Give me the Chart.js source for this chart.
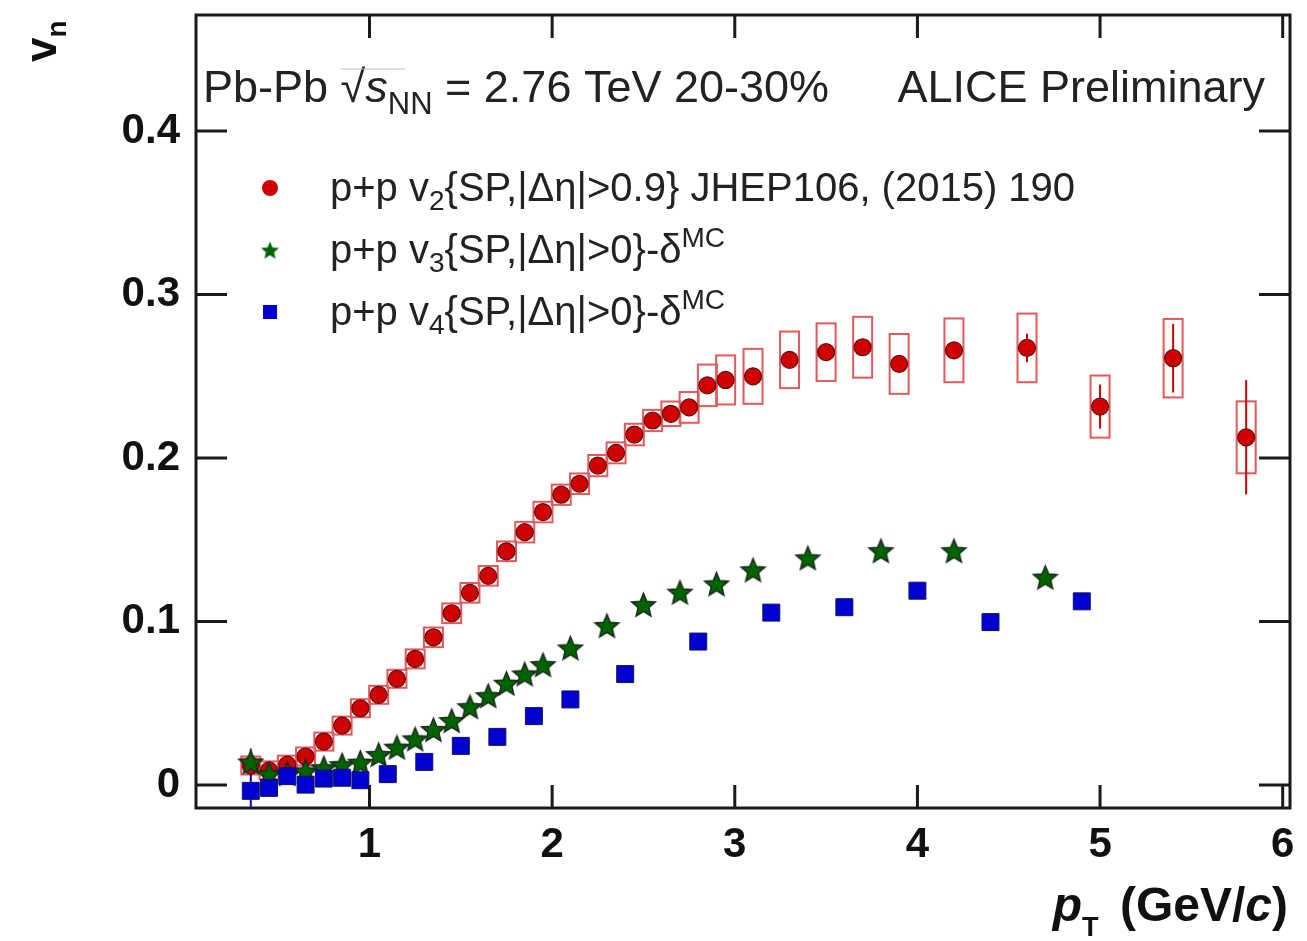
<!DOCTYPE html>
<html>
<head>
<meta charset="utf-8">
<title>ALICE vn vs pT</title>
<script src="https://cdn.jsdelivr.net/npm/chart.js@4.4.0/dist/chart.umd.min.js"></script>
<style>
  html, body { margin: 0; padding: 0; background: #fff; }
  #wrap { width: 1307px; height: 941px; }
</style>
</head>
<body>
<div id="wrap"><canvas id="chart" width="1307" height="941"></canvas></div>
<script>
// v2 (red circles) with statistical and systematic uncertainties
const v2Pt = [0.35, 0.45, 0.55, 0.65, 0.75, 0.85, 0.95, 1.05, 1.15, 1.25, 1.35, 1.45, 1.55, 1.65, 1.75, 1.85, 1.95,
  2.05, 2.15, 2.25, 2.35, 2.45, 2.55, 2.65, 2.75, 2.85, 2.95, 3.1, 3.3, 3.5, 3.7, 3.9, 4.2, 4.6, 5.0, 5.4, 5.8];
const v2 = [0.012, 0.009, 0.0125, 0.0175, 0.0266, 0.0364, 0.047, 0.0552, 0.065, 0.0772, 0.0904, 0.1051, 0.1176, 0.128,
  0.143, 0.1547, 0.167, 0.1776, 0.1843, 0.1954, 0.2032, 0.2144, 0.223, 0.2271, 0.231, 0.2445, 0.2478, 0.25, 0.2601,
  0.2648, 0.2678, 0.2576, 0.2659, 0.2674, 0.2315, 0.2611, 0.2127];
const v2Stat = [0.003, 0.002, 0.002, 0.002, 0.002, 0.002, 0.002, 0.002, 0.002, 0.002, 0.002, 0.002, 0.002, 0.002,
  0.002, 0.002, 0.002, 0.002, 0.002, 0.002, 0.002, 0.002, 0.002, 0.002, 0.003, 0.003, 0.003, 0.003, 0.003,
  0.004, 0.004, 0.004, 0.005, 0.0087, 0.0135, 0.021, 0.035];
const v2Sys = [0.0055, 0.0055, 0.0055, 0.0055, 0.0055, 0.0055, 0.0055, 0.0055, 0.0055, 0.0058, 0.006, 0.006, 0.006,
  0.006, 0.006, 0.0063, 0.0063, 0.0062, 0.0063, 0.0065, 0.0064, 0.0066, 0.0065, 0.0075, 0.0094, 0.0127, 0.015,
  0.0168, 0.0173, 0.0176, 0.0186, 0.0183, 0.0195, 0.021, 0.019, 0.024, 0.022];

// v3 (green stars)
const v3Pt = [0.35, 0.45, 0.55, 0.65, 0.75, 0.85, 0.95, 1.05, 1.15, 1.25, 1.35, 1.45, 1.55, 1.65, 1.75, 1.85, 1.95,
  2.1, 2.3, 2.5, 2.7, 2.9, 3.1, 3.4, 3.8, 4.2, 4.7];
const v3 = [0.0142, 0.0069, 0.007, 0.0087, 0.0106, 0.0125, 0.014, 0.0187, 0.0232, 0.0283, 0.034, 0.0395, 0.048,
  0.0547, 0.0623, 0.068, 0.0737, 0.0839, 0.0976, 0.1104, 0.118, 0.1231, 0.1317, 0.139, 0.1434, 0.1434, 0.1272];
const v3Stat = [0.0082, 0.003, 0.002, 0.002, 0.002, 0.002, 0.002, 0.002, 0.002, 0.002, 0.002, 0.002, 0.002, 0.002,
  0.002, 0.002, 0.002, 0.002, 0.002, 0.002, 0.002, 0.002, 0.002, 0.002, 0.003, 0.003, 0.004];

// v4 (blue squares)
const v4Pt = [0.35, 0.45, 0.55, 0.65, 0.75, 0.85, 0.95, 1.1, 1.3, 1.5, 1.7, 1.9, 2.1, 2.4, 2.8, 3.2, 3.6, 4.0, 4.4, 4.9];
const v4 = [-0.0035, -0.0017, 0.0055, 0.0003, 0.004, 0.0045, 0.003, 0.0067, 0.0142, 0.024, 0.0295, 0.0422, 0.0524,
  0.0679, 0.0878, 0.1055, 0.1088, 0.1189, 0.0997, 0.1124];
const v4Stat = [0.0105, 0.004, 0.002, 0.002, 0.002, 0.002, 0.002, 0.002, 0.002, 0.002, 0.002, 0.002, 0.002, 0.002,
  0.002, 0.002, 0.002, 0.002, 0.0028, 0.0035];

// axis ticks
const xTicks = [1, 2, 3, 4, 5, 6];
const yTicks = [0, 0.1, 0.2, 0.3, 0.4];
const yTickLabels = ['0', '0.1', '0.2', '0.3', '0.4'];

const FONT = '"Liberation Sans", Arial, Helvetica, sans-serif';
const RED = '#d00000', GREEN = '#006400', BLUE = '#0000d0';
const SYS_HALF_WIDTH = 0.052; // half width of systematic boxes, in GeV/c

function starImage(r, fill, stroke) {
  const c = document.createElement('canvas');
  const s = Math.ceil(r * 2 + 4);
  c.width = s; c.height = s;
  const g = c.getContext('2d');
  g.translate(s / 2, s / 2 + r * 0.1);
  g.beginPath();
  for (let k = 0; k < 10; k++) {
    const rad = k % 2 ? r * 0.45 : r;
    const a = -Math.PI / 2 + k * Math.PI / 5;
    g.lineTo(rad * Math.cos(a), rad * Math.sin(a));
  }
  g.closePath();
  g.fillStyle = fill; g.fill();
  if (stroke) { g.lineWidth = 1.5; g.strokeStyle = stroke; g.stroke(); }
  return c;
}
const starBig = starImage(12.5, GREEN, '#1a2a1a');
const starSmall = starImage(9.5, GREEN, null);

const toXY = (xs, ys) => xs.map((v, i) => ({ x: v, y: ys[i] }));

// draw a line of text made of pieces (sub/superscripts, italics)
function drawRich(ctx, x, y, parts, align) {
  let w = 0;
  parts.forEach(p => { ctx.font = p.f; w += ctx.measureText(p.t).width + (p.gap || 0); });
  let cx = align === 'right' ? x - w : x;
  parts.forEach(p => {
    ctx.font = p.f;
    ctx.fillText(p.t, cx, y + (p.dy || 0));
    if (p.over) {
      const ww = ctx.measureText(p.t).width;
      ctx.save(); ctx.lineWidth = 1; ctx.strokeStyle = '#bbb';
      ctx.beginPath(); ctx.moveTo(cx, y - 33); ctx.lineTo(cx + ww + 40, y - 33); ctx.stroke();
      ctx.restore();
    }
    cx += ctx.measureText(p.t).width + (p.gap || 0);
  });
}

const errorPlugin = {
  id: 'errors',
  beforeDatasetsDraw(chart) {
    const { ctx, scales: { x, y } } = chart;
    ctx.save();
    // systematic boxes
    ctx.strokeStyle = '#e4585c';
    ctx.lineWidth = 2;
    v2Pt.forEach((pt, i) => {
      const l = x.getPixelForValue(pt - SYS_HALF_WIDTH), r = x.getPixelForValue(pt + SYS_HALF_WIDTH);
      const t = y.getPixelForValue(v2[i] + v2Sys[i]), b = y.getPixelForValue(v2[i] - v2Sys[i]);
      ctx.strokeRect(l, t, r - l, b - t);
    });
    // statistical bars
    const bars = (xs, ys, es, color) => {
      ctx.strokeStyle = color;
      ctx.lineWidth = 2;
      xs.forEach((pt, i) => {
        const px = x.getPixelForValue(pt);
        ctx.beginPath();
        ctx.moveTo(px, y.getPixelForValue(ys[i] + es[i]));
        ctx.lineTo(px, y.getPixelForValue(ys[i] - es[i]));
        ctx.stroke();
      });
    };
    bars(v2Pt, v2, v2Stat, RED);
    bars(v3Pt, v3, v3Stat, GREEN);
    bars(v4Pt, v4, v4Stat, BLUE);
    ctx.restore();
  }
};

const framePlugin = {
  id: 'frame',
  afterDraw(chart) {
    const { ctx, chartArea: a, scales: { x, y } } = chart;
    ctx.save();
    ctx.strokeStyle = '#1a1a1a';
    ctx.lineWidth = 3;
    ctx.strokeRect(a.left, a.top, a.right - a.left, a.bottom - a.top);
    ctx.beginPath();
    xTicks.forEach(v => {
      const px = x.getPixelForValue(v);
      ctx.moveTo(px, a.bottom); ctx.lineTo(px, a.bottom - 23);
      ctx.moveTo(px, a.top); ctx.lineTo(px, a.top + 23);
    });
    yTicks.forEach(v => {
      const py = y.getPixelForValue(v);
      ctx.moveTo(a.left, py); ctx.lineTo(a.left + 31, py);
      ctx.moveTo(a.right, py); ctx.lineTo(a.right - 31, py);
    });
    ctx.stroke();

    // header
    ctx.fillStyle = '#222';
    ctx.textBaseline = 'alphabetic';
    const hf = '45px ' + FONT;
    drawRich(ctx, 203, 102, [
      { t: 'Pb-Pb ', f: hf },
      { t: '\u221A', f: hf, over: true },
      { t: 's', f: 'italic ' + hf },
      { t: 'NN', f: '31px ' + FONT, dy: 12 },
      { t: ' = 2.76 TeV 20-30%', f: hf }
    ]);
    drawRich(ctx, 1265, 102, [{ t: 'ALICE Preliminary', f: hf }], 'right');

    // legend
    const lf = '40px ' + FONT, sf = '28px ' + FONT;
    const lx = 330, mx = 270;
    ctx.fillStyle = RED;
    ctx.beginPath(); ctx.arc(mx, 188, 8, 0, Math.PI * 2); ctx.fill();
    ctx.drawImage(starSmall, mx - starSmall.width / 2, 250 - starSmall.height / 2);
    ctx.fillStyle = BLUE;
    ctx.fillRect(mx - 7, 312 - 7, 14, 14);
    ctx.fillStyle = '#222';
    drawRich(ctx, lx, 201, [
      { t: 'p+p v', f: lf }, { t: '2', f: sf, dy: 9 },
      { t: '{SP,|\u0394\u03B7|>0.9} JHEP106, (2015) 190', f: lf }
    ]);
    drawRich(ctx, lx, 263, [
      { t: 'p+p v', f: lf }, { t: '3', f: sf, dy: 9 },
      { t: '{SP,|\u0394\u03B7|>0}-\u03B4', f: lf }, { t: 'MC', f: sf, dy: -16 }
    ]);
    drawRich(ctx, lx, 325, [
      { t: 'p+p v', f: lf }, { t: '4', f: sf, dy: 9 },
      { t: '{SP,|\u0394\u03B7|>0}-\u03B4', f: lf }, { t: 'MC', f: sf, dy: -16 }
    ]);

    // axis titles
    ctx.fillStyle = '#111';
    drawRich(ctx, 1288, 921, [
      { t: 'p', f: 'italic bold 48px ' + FONT },
      { t: 'T', f: 'bold 27px ' + FONT, dy: 15, gap: 8 },
      { t: ' (GeV/', f: 'bold 48px ' + FONT },
      { t: 'c', f: 'italic bold 48px ' + FONT },
      { t: ')', f: 'bold 48px ' + FONT }
    ], 'right');
    ctx.save();
    ctx.translate(56, 62);
    ctx.rotate(-Math.PI / 2);
    drawRich(ctx, 0, 0, [
      { t: 'v', f: 'bold 44px ' + FONT },
      { t: 'n', f: 'bold 28px ' + FONT, dy: 10 }
    ]);
    ctx.restore();
    ctx.restore();
  }
};

const ctx = document.getElementById('chart').getContext('2d');
new Chart(ctx, {
  type: 'scatter',
  data: {
    datasets: [
      {
        label: 'v2',
        data: toXY(v2Pt, v2),
        pointStyle: 'circle',
        pointRadius: 8.5,
        backgroundColor: RED,
        borderColor: '#5a1010',
        borderWidth: 1.2,
        order: 3
      },
      {
        label: 'v3',
        data: toXY(v3Pt, v3),
        pointStyle: starBig,
        order: 2
      },
      {
        label: 'v4',
        data: toXY(v4Pt, v4),
        pointStyle: 'rect',
        pointRadius: 12,
        backgroundColor: BLUE,
        borderColor: '#101060',
        borderWidth: 1,
        order: 1
      }
    ]
  },
  options: {
    responsive: false,
    animation: false,
    events: [],
    layout: { padding: { top: 15, right: 17, left: 0, bottom: 0 } },
    plugins: { legend: { display: false }, tooltip: { enabled: false } },
    scales: {
      x: {
        type: 'linear',
        min: 0.05,
        max: 6.04,
        afterFit(s) { s.height = 133; s.paddingLeft = 0; s.paddingRight = 0; },
        afterBuildTicks(s) { s.ticks = xTicks.map(v => ({ value: v })); },
        ticks: {
          autoSkip: false,
          maxRotation: 0,
          padding: 12,
          color: '#111',
          font: { family: FONT, size: 42, weight: 'bold' },
          callback: v => String(v)
        },
        grid: { display: false, drawTicks: false },
        border: { display: false }
      },
      y: {
        type: 'linear',
        min: -0.014,
        max: 0.471,
        afterFit(s) { s.width = 196; s.paddingTop = 0; s.paddingBottom = 0; },
        afterBuildTicks(s) { s.ticks = yTicks.map(v => ({ value: v })); },
        ticks: {
          autoSkip: false,
          padding: 16,
          color: '#111',
          font: { family: FONT, size: 42, weight: 'bold' },
          callback: v => yTickLabels[yTicks.indexOf(v)]
        },
        grid: { display: false, drawTicks: false },
        border: { display: false }
      }
    }
  },
  plugins: [errorPlugin, framePlugin]
});
</script>
</body>
</html>
